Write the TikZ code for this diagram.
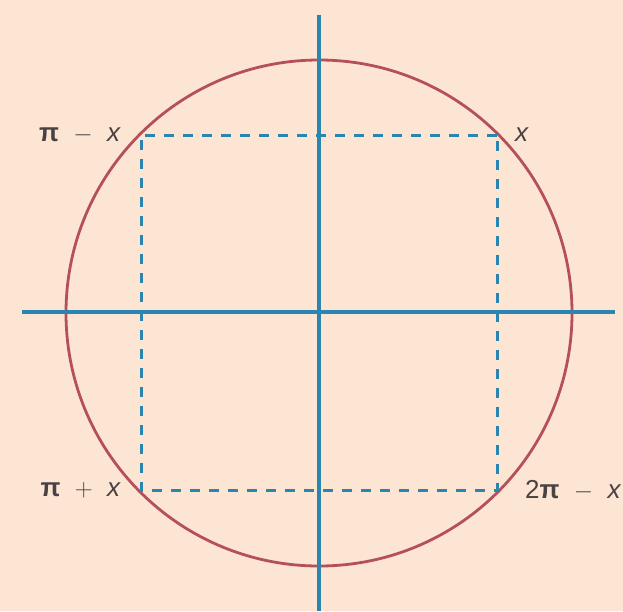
\documentclass[tikz,border=0pt]{standalone}
\usepackage{fontspec}
\setmainfont{Liberation Sans}
\definecolor{bg}{HTML}{FDE5D4}
\definecolor{circ}{HTML}{B5505A}
\definecolor{axis}{HTML}{2A86B0}
\definecolor{txt}{HTML}{4A4242}
\newcommand{\opsp}{\hspace{0.55em}}
\tikzset{
  axisline/.style={axis, line width=3.2pt},
  circline/.style={circ, line width=2.8pt},
  dashline/.style={axis, line width=3pt, dash pattern=on 10pt off 9pt},
  lbl/.style={txt, font=\fontsize{26}{30}\selectfont, inner sep=0pt}
}
\begin{document}
\begin{tikzpicture}[x=1pt,y=-1pt]
\fill[bg] (0,0) rectangle (623,611);
\useasboundingbox (0,0) rectangle (623,611);
\coordinate (O) at (319,313);
\coordinate (A) at (497,135);
\coordinate (B) at (141,135);
\coordinate (C) at (141,490);
\coordinate (D) at (497,490);
\coordinate (top) at (319,15);
\coordinate (bot) at (319,611);
\coordinate (lft) at (22,312);
\coordinate (rgt) at (615,312);
\draw[circline] (O) circle[radius=253];
\draw[dashline] (A) -- (B) -- (C) -- (D) -- cycle;
\draw[axisline] (top) -- (bot);
\draw[axisline] (lft) -- (rgt);
\node[lbl, anchor=east] (l1) at (121,135) {\textbf{π}\opsp$-$\opsp\textit{x}};
\node[lbl, anchor=west] (l2) at (515,135) {\textit{x}};
\node[lbl, anchor=east] (l3) at (121,490) {\textbf{π}\opsp$+$\opsp\textit{x}};
\node[lbl, anchor=west] (l4) at (525,490) {2\textbf{π}\opsp$-$\opsp\textit{x}};
\end{tikzpicture}
\end{document}
